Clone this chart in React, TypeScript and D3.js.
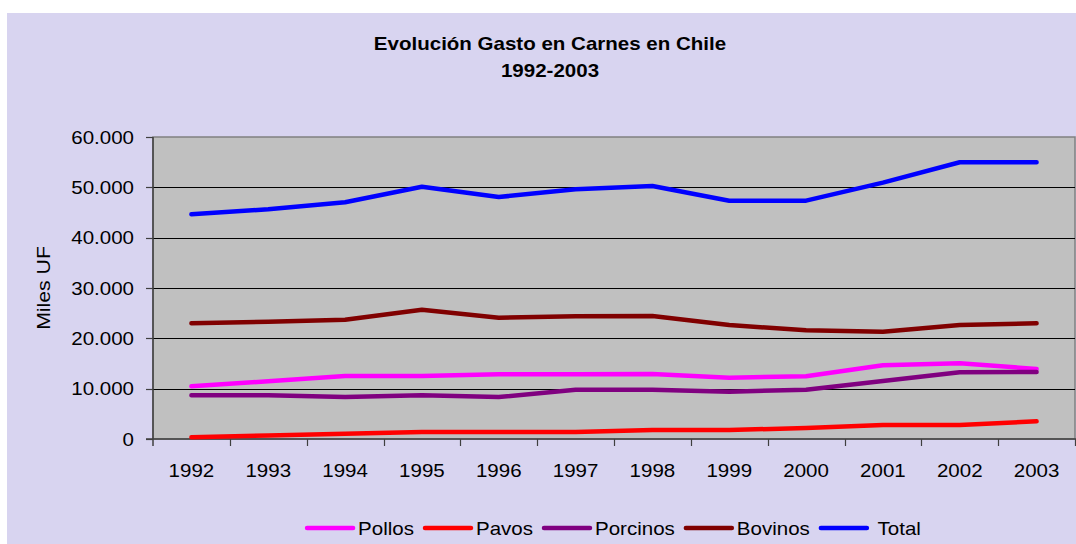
import React, { useEffect, useRef } from "react";
import * as d3 from "d3";

const years = ["1992", "1993", "1994", "1995", "1996", "1997", "1998", "1999", "2000", "2001", "2002", "2003"];
const pollos = [10470, 11460, 12520, 12520, 12850, 12850, 12910, 12180, 12450, 14640, 15040, 13910];
const pavos = [340, 700, 1050, 1390, 1390, 1390, 1790, 1790, 2190, 2780, 2780, 3510];
const porcinos = [8680, 8680, 8340, 8680, 8340, 9800, 9800, 9400, 9800, 11520, 13250, 13310];
const bovinos = [22990, 23300, 23700, 25690, 24100, 24370, 24440, 22650, 21600, 21320, 22650, 22990];
const total = [44640, 45640, 47030, 50130, 48080, 49610, 50270, 47350, 47350, 50930, 54980, 54980];
const yTicks = [0, 10000, 20000, 30000, 40000, 50000, 60000];
const seriesNames = ["Pollos", "Pavos", "Porcinos", "Bovinos", "Total"];
const seriesLabels = ["Pollos", "Pavos", "Porcinos", "Bovinos", "\u00a0Total"];
const seriesValues = [pollos, pavos, porcinos, bovinos, total];
const seriesColors = ["#FF00FF", "#FF0000", "#800080", "#800000", "#0000FF"];
const titleLines = ["Evolución Gasto en Carnes en Chile", "1992-2003"];
const yLabel = "Miles UF";

const W = 1076;
const H = 544;
const FONT = "'Liberation Sans', Arial, sans-serif";
const SX = 1.14;

export default function App() {
  const ref = useRef<SVGSVGElement | null>(null);

  useEffect(() => {
    const svg = d3.select(ref.current);
    svg.selectAll("*").remove();

    const plot = { left: 153, right: 1075, top: 137, bottom: 439 };
    const x = d3.scaleBand<string>().domain(years).range([plot.left, plot.right]).padding(0);
    const y = d3.scaleLinear().domain([0, 60000]).range([plot.bottom, plot.top]);
    const loc = d3.formatLocale({ thousands: ".", decimal: ",", grouping: [3], currency: ["", ""] });
    const fmt = loc.format(",");

    // outer background
    svg.append("rect").attr("x", 7).attr("y", 13).attr("width", W - 7).attr("height", H - 13).attr("fill", "#D8D4F0");

    // plot area
    svg.append("rect").attr("x", plot.left).attr("y", plot.top)
      .attr("width", plot.right - plot.left).attr("height", plot.bottom - plot.top)
      .attr("fill", "#C0C0C0").attr("stroke", "#808080").attr("stroke-width", 1.5);

    // gridlines
    svg.append("g").selectAll("line").data(yTicks.filter((t) => t > 0 && t < 60000)).join("line")
      .attr("x1", plot.left).attr("x2", plot.right)
      .attr("y1", (d) => Math.round(y(d)) + 0.5).attr("y2", (d) => Math.round(y(d)) + 0.5)
      .attr("stroke", "#000").attr("stroke-width", 1);

    // axes lines
    svg.append("line").attr("x1", plot.left).attr("x2", plot.left).attr("y1", plot.top).attr("y2", plot.bottom + 7)
      .attr("stroke", "#404040").attr("stroke-width", 1.5);
    svg.append("line").attr("x1", plot.left - 7).attr("x2", plot.right + 1).attr("y1", plot.bottom).attr("y2", plot.bottom)
      .attr("stroke", "#404040").attr("stroke-width", 1.5);

    // y ticks
    svg.append("g").selectAll("line").data(yTicks).join("line")
      .attr("x1", plot.left - 7).attr("x2", plot.left)
      .attr("y1", (d) => Math.round(y(d)) + 0.5).attr("y2", (d) => Math.round(y(d)) + 0.5)
      .attr("stroke", "#404040").attr("stroke-width", 1.2);
    svg.append("g").selectAll("text").data(yTicks).join("text")
      .attr("transform", (d) => `translate(134,${y(d) + 6.5}) scale(${SX},1)`)
      .attr("text-anchor", "end").attr("font-family", FONT).attr("font-size", 18).attr("fill", "#000")
      .text((d) => fmt(d));

    // x ticks
    const bounds = years.map((yr) => x(yr) as number).concat([plot.right]);
    svg.append("g").selectAll("line").data(bounds.slice(1)).join("line")
      .attr("x1", (d) => Math.round(d) + 0.5).attr("x2", (d) => Math.round(d) + 0.5)
      .attr("y1", plot.bottom).attr("y2", plot.bottom + 7)
      .attr("stroke", "#404040").attr("stroke-width", 1.2);
    svg.append("g").selectAll("text").data(years).join("text")
      .attr("transform", (d) => `translate(${(x(d) as number) + x.bandwidth() / 2},477) scale(${SX},1)`)
      .attr("text-anchor", "middle").attr("font-family", FONT).attr("font-size", 18).attr("fill", "#000")
      .text((d) => d);

    // lines
    const line = d3.line<number>()
      .x((_, i) => (x(years[i]) as number) + x.bandwidth() / 2)
      .y((d) => y(d));
    seriesValues.forEach((vals, si) => {
      svg.append("path").datum(vals).attr("d", line)
        .attr("fill", "none").attr("stroke", seriesColors[si]).attr("stroke-width", 4.5)
        .attr("stroke-linecap", "round").attr("stroke-linejoin", "round");
    });

    // title
    svg.append("text").attr("transform", `translate(550,50) scale(${SX},1)`)
      .attr("text-anchor", "middle").attr("font-family", FONT).attr("font-size", 18).attr("font-weight", "bold")
      .text(titleLines[0]);
    svg.append("text").attr("transform", `translate(550,77) scale(${SX},1)`)
      .attr("text-anchor", "middle").attr("font-family", FONT).attr("font-size", 18).attr("font-weight", "bold")
      .text(titleLines[1]);

    // y label
    svg.append("text").attr("transform", `translate(50,288) rotate(-90) scale(1.18,1)`)
      .attr("text-anchor", "middle").attr("font-family", FONT).attr("font-size", 18)
      .text(yLabel);

    // legend
    const lineLen = 46;
    const gapLT = 5;
    const gapItem = 11;
    const lg = svg.append("g");
    const widths: number[] = [];
    seriesLabels.forEach((lab) => {
      const t = lg.append("text").attr("font-family", FONT).attr("font-size", 18).text(lab);
      widths.push((t.node() as SVGTextElement).getComputedTextLength() * SX);
      t.remove();
    });
    const totalW = widths.reduce((a, w) => a + lineLen + gapLT + w, 0) + gapItem * (widths.length - 1);
    let cx = (plot.left + plot.right) / 2 - totalW / 2;
    seriesLabels.forEach((lab, i) => {
      lg.append("line").attr("x1", cx).attr("x2", cx + lineLen).attr("y1", 528).attr("y2", 528)
        .attr("stroke", seriesColors[i]).attr("stroke-width", 4.5).attr("stroke-linecap", "round");
      lg.append("text").attr("transform", `translate(${cx + lineLen + gapLT},535) scale(${SX},1)`)
        .attr("font-family", FONT).attr("font-size", 18).attr("fill", "#000")
        .attr("data-series", seriesNames[i]).text(lab);
      cx += lineLen + gapLT + widths[i] + gapItem;
    });
  }, []);

  return (
    <svg ref={ref} width={W} height={H} style={{ position: "absolute", left: 0, top: 0, display: "block" }} />
  );
}
